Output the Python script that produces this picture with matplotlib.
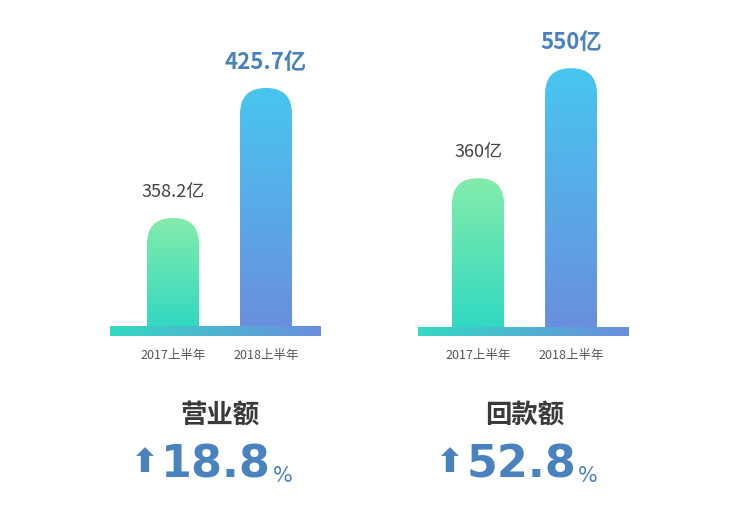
import numpy as np
import matplotlib
matplotlib.use("Agg")
import matplotlib.pyplot as plt
from matplotlib.patches import FancyBboxPatch
from matplotlib.colors import LinearSegmentedColormap

plt.rcParams['font.family'] = ['Noto Sans CJK SC', 'DejaVu Sans']

categories = ["2017上半年", "2018上半年"]
revenue = [358.2, 425.7]
collection = [360, 550]
titles = ["营业额", "回款额"]
growth = ["18.8", "52.8"]
value_labels = [["358.2亿", "425.7亿"], ["360亿", "550亿"]]

W, H = 740, 516
fig = plt.figure(figsize=(W/100, H/100), dpi=100)

def fx(px): return px / W
def fy(py): return 1 - py / H

green = LinearSegmentedColormap.from_list("g", ["#2fd8c2", "#84ecaa"])
blue = LinearSegmentedColormap.from_list("b", ["#6a8ede", "#48c6f0"])
base = LinearSegmentedColormap.from_list("base", ["#33d9c2", "#6a8ede"])

panels = [
    dict(left=100, vals=revenue, ylim=(299.5, 450.6), xlim=(-0.785, 1.688), cx=220, bx=(-0.677, 1.581)),
    dict(left=408, vals=collection, ylim=(96.0, 598.6), xlim=(-0.753, 1.720), cx=525, bx=(-0.645, 1.613)),
]
bw = 0.559
AH = 291.0
fig.canvas.draw()
renderer = fig.canvas.get_renderer()
for i, p in enumerate(panels):
    ax = fig.add_axes([fx(p['left']), fy(331), fx(230), AH / H])
    ax.set_xlim(*p['xlim']); ax.set_ylim(*p['ylim'])
    ax.axis('off')
    y0, y1 = p['ylim']
    ypp = (y1 - y0) / AH
    xpp = (p['xlim'][1] - p['xlim'][0]) / 230.0
    asp = ypp / xpp
    grad = np.linspace(0, 1, 256).reshape(-1, 1)
    for j, v in enumerate(p['vals']):
        x0 = j - bw / 2
        bot = y0 - 40 * ypp
        patch = FancyBboxPatch((x0, bot), bw, v - bot,
                               boxstyle="round,pad=0,rounding_size=%f" % (26 * xpp),
                               mutation_aspect=asp, transform=ax.transData,
                               facecolor='none', edgecolor='none')
        ax.add_patch(patch)
        im = ax.imshow(grad, cmap=green if j == 0 else blue, origin='lower',
                       extent=(x0, x0 + bw, y0, v), aspect='auto', interpolation='bicubic')
        im.set_clip_path(patch)
        lab = value_labels[i][j]
        if j == 0:
            ax.annotate(lab, (j, v), xytext=(0, 12), textcoords='offset points',
                        ha='center', va='bottom', fontsize=13, color='#444444')
        else:
            ax.annotate(lab, (j, v), xytext=(0, 10), textcoords='offset points',
                        ha='center', va='bottom', fontsize=16, color='#4a82c0', fontweight='bold')
    h = 4.5 * ypp
    bp = FancyBboxPatch((p['bx'][0], y0 - h), p['bx'][1] - p['bx'][0], 2 * h,
                        boxstyle="round,pad=0,rounding_size=%f" % (4.5 * xpp),
                        mutation_aspect=asp, facecolor='none', edgecolor='none',
                        transform=ax.transData, clip_on=False)
    ax.add_patch(bp)
    im = ax.imshow(np.linspace(0, 1, 256).reshape(1, -1), cmap=base,
                   extent=(p['bx'][0], p['bx'][1], y0 - h, y0 + h), aspect='auto')
    im.set_clip_on(False); im.set_clip_path(bp)
    ax.set_xlim(*p['xlim']); ax.set_ylim(*p['ylim'])
    for j, c in enumerate(categories):
        ax.text(j, y0 - 24 * ypp, c, ha='center', va='center', fontsize=9, color='#555555')
    cx = p['cx']
    fig.text(fx(cx), fy(415), titles[i], ha='center', va='center', fontsize=19,
             fontweight='bold', color='#3a3a3a')
    num = fig.text(fx(cx - 4), fy(465), growth[i], ha='center', va='center', fontsize=32,
                   fontweight='bold', color='#4a82c0',
                   family=['Liberation Sans Narrow', 'DejaVu Sans'])
    bb = num.get_window_extent(renderer)
    fig.text(bb.x0 / W - fx(2), fy(463), "⬆", ha='right', va='center', fontsize=24,
             color='#4a82c0', family='DejaVu Sans', fontweight='bold')
    fig.text(bb.x1 / W + fx(2), fy(476), "%", ha='left', va='center', fontsize=15,
             color='#4a82c0', family='DejaVu Sans')

fig.savefig("out.png", dpi=100, facecolor='white')
